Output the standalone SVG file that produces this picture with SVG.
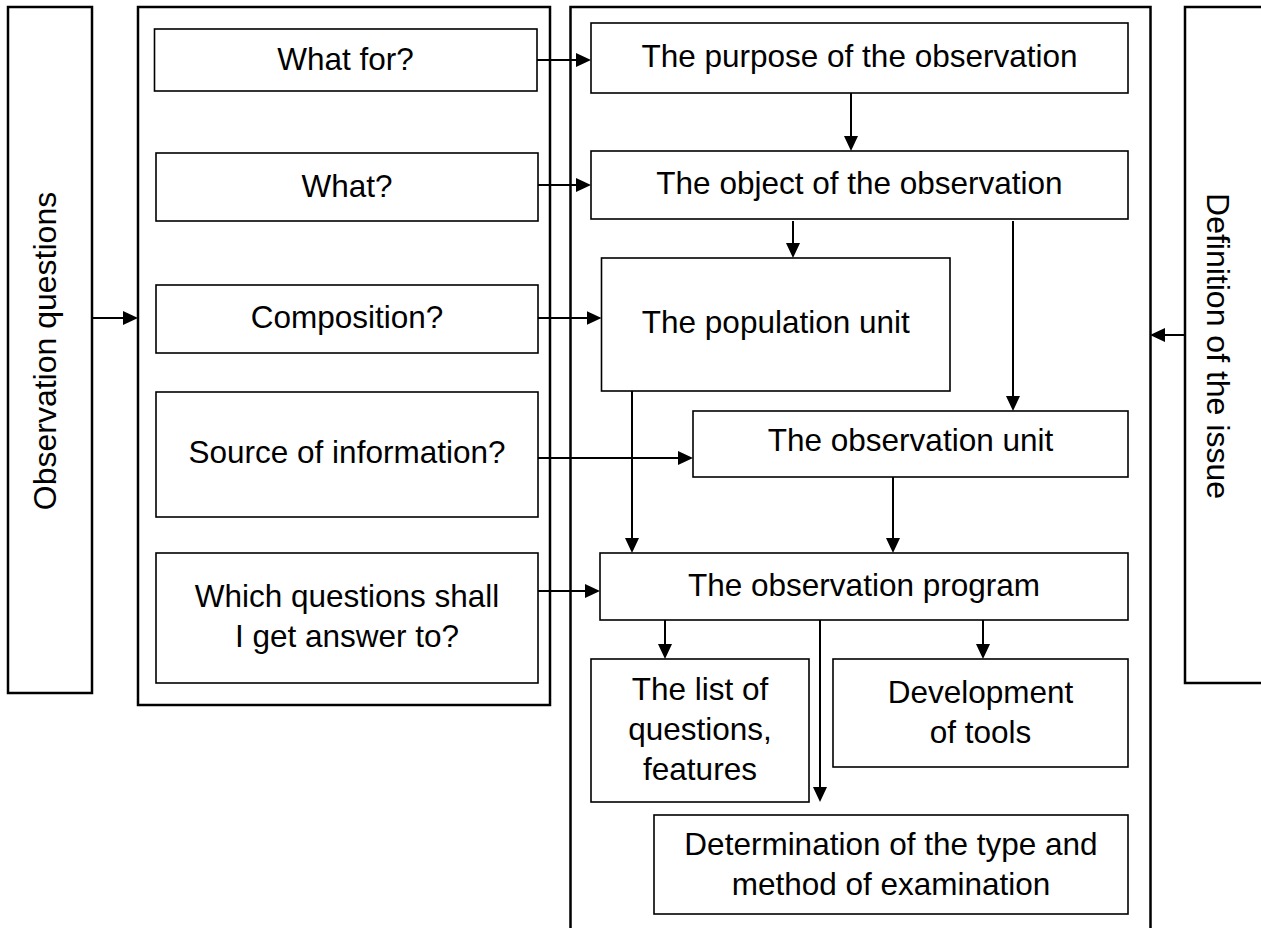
<svg xmlns="http://www.w3.org/2000/svg" width="1261" height="928" viewBox="0 0 1261 928">
  <style>
    .container { fill: #ffffff; stroke: #000000; stroke-width: 2.5; }
    .box { fill: #ffffff; stroke: #000000; stroke-width: 1.6; }
    .lbl { font-family: "Liberation Sans", Arial, sans-serif; font-size: 31.5px; fill: #000000; text-anchor: middle; }
    .side { font-family: "Liberation Sans", Arial, sans-serif; font-size: 32px; fill: #000000; text-anchor: middle; }
    .conn { fill: none; stroke: #000000; stroke-width: 2; }
  </style>
  <defs>
    <marker id="arrow" markerUnits="userSpaceOnUse" markerWidth="15" markerHeight="14" refX="7" refY="7" orient="auto">
      <path d="M0,0 L15,7 L0,14 Z" fill="#000000"/>
    </marker>
  </defs>
  <rect width="1261" height="928" fill="#ffffff"/>

  <!-- containers -->
  <g id="observation-questions">
    <rect class="container" x="8" y="7" width="84" height="686"/>
    <text class="side" transform="translate(56,351) rotate(-90)">Observation questions</text>
  </g>
  <g id="questions-container">
    <rect class="container" x="138" y="7" width="412" height="698"/>
  </g>
  <g id="process-container">
    <rect class="container" x="570.5" y="7" width="580" height="940"/>
  </g>
  <g id="definition-of-issue">
    <rect class="container" x="1185" y="7" width="90" height="676"/>
    <text class="side" transform="translate(1207,346) rotate(90)">Definition of the issue</text>
  </g>

  <!-- left question boxes -->
  <g id="what-for">
    <rect class="box" x="154.5" y="29" width="382.5" height="62"/>
    <text class="lbl" x="345.5" y="70">What for?</text>
  </g>
  <g id="what">
    <rect class="box" x="156" y="153" width="382" height="68"/>
    <text class="lbl" x="347" y="197">What?</text>
  </g>
  <g id="composition">
    <rect class="box" x="156" y="285" width="382" height="68"/>
    <text class="lbl" x="347" y="328">Composition?</text>
  </g>
  <g id="source">
    <rect class="box" x="156" y="392" width="382" height="125"/>
    <text class="lbl" x="347" y="463">Source of information?</text>
  </g>
  <g id="which-questions">
    <rect class="box" x="156" y="553" width="382" height="130"/>
    <text class="lbl" x="347" y="607">Which questions shall</text>
    <text class="lbl" x="347" y="647">I get answer to?</text>
  </g>

  <!-- center boxes -->
  <g id="purpose">
    <rect class="box" x="591" y="23" width="537" height="70"/>
    <text class="lbl" x="859.5" y="67">The purpose of the observation</text>
  </g>
  <g id="object">
    <rect class="box" x="591" y="151" width="537" height="68"/>
    <text class="lbl" x="859.5" y="194">The object of the observation</text>
  </g>
  <g id="population-unit">
    <rect class="box" x="601.5" y="258" width="348.5" height="133"/>
    <text class="lbl" x="775.8" y="333">The population unit</text>
  </g>
  <g id="observation-unit">
    <rect class="box" x="693" y="411" width="435" height="66"/>
    <text class="lbl" x="910.5" y="451">The observation unit</text>
  </g>
  <g id="observation-program">
    <rect class="box" x="600" y="553" width="528" height="67"/>
    <text class="lbl" x="864" y="596">The observation program</text>
  </g>
  <g id="list-of-questions">
    <rect class="box" x="591" y="659" width="218" height="143"/>
    <text class="lbl" x="700" y="700">The list of</text>
    <text class="lbl" x="700" y="740">questions,</text>
    <text class="lbl" x="700" y="780">features</text>
  </g>
  <g id="development-of-tools">
    <rect class="box" x="833" y="659" width="295" height="108"/>
    <text class="lbl" x="980.5" y="703">Development</text>
    <text class="lbl" x="980.5" y="743">of tools</text>
  </g>
  <g id="determination">
    <rect class="box" x="654" y="815" width="474" height="99"/>
    <text class="lbl" x="891" y="855">Determination of the type and</text>
    <text class="lbl" x="891" y="895">method of examination</text>
  </g>

  <!-- connectors -->
  <g id="connectors">
    <line class="conn" x1="92" y1="318" x2="130" y2="318" marker-end="url(#arrow)"/>
    <line class="conn" x1="537" y1="60" x2="583" y2="60" marker-end="url(#arrow)"/>
    <line class="conn" x1="538" y1="185" x2="583" y2="185" marker-end="url(#arrow)"/>
    <line class="conn" x1="538" y1="318" x2="593.5" y2="318" marker-end="url(#arrow)"/>
    <line class="conn" x1="538" y1="458" x2="685" y2="458" marker-end="url(#arrow)"/>
    <line class="conn" x1="538" y1="591" x2="592" y2="591" marker-end="url(#arrow)"/>
    <line class="conn" x1="851" y1="93" x2="851" y2="143" marker-end="url(#arrow)"/>
    <line class="conn" x1="793" y1="221" x2="793" y2="250" marker-end="url(#arrow)"/>
    <line class="conn" x1="1013" y1="221" x2="1013" y2="403" marker-end="url(#arrow)"/>
    <line class="conn" x1="632" y1="391" x2="632" y2="545" marker-end="url(#arrow)"/>
    <line class="conn" x1="893" y1="477" x2="893" y2="545" marker-end="url(#arrow)"/>
    <line class="conn" x1="665" y1="620" x2="665" y2="651" marker-end="url(#arrow)"/>
    <line class="conn" x1="983" y1="620" x2="983" y2="651" marker-end="url(#arrow)"/>
    <line class="conn" x1="820" y1="620" x2="820" y2="794" marker-end="url(#arrow)"/>
    <line class="conn" x1="1185" y1="335" x2="1158" y2="335" marker-end="url(#arrow)"/>
  </g>
</svg>
